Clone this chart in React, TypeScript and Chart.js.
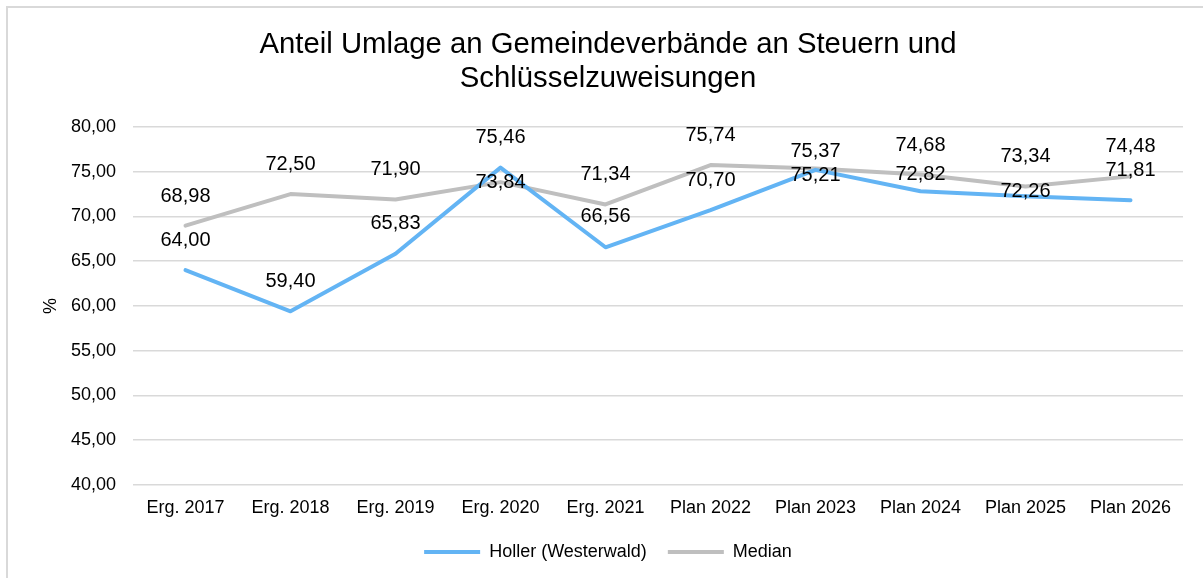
import React, { useEffect, useRef } from "react";
import { Chart, registerables } from "chart.js";

Chart.register(...registerables);

const categories = [
  "Erg. 2017", "Erg. 2018", "Erg. 2019", "Erg. 2020", "Erg. 2021",
  "Plan 2022", "Plan 2023", "Plan 2024", "Plan 2025", "Plan 2026",
];
const hollerValues = [64.0, 59.4, 65.83, 75.46, 66.56, 70.7, 75.21, 72.82, 72.26, 71.81];
const medianValues = [68.98, 72.5, 71.9, 73.84, 71.34, 75.74, 75.37, 74.68, 73.34, 74.48];
// vertical label shifts (px) relative to each point
const hollerLabelShift = [-30, -30, -30, -30, -31, -30, 6, -17, -5, -30];
const medianLabelShift = [-29, -30, -30, 0, -30, -30, -17, -29, -30, -30];
const titleLines = ["Anteil Umlage an Gemeindeverbände an Steuern und", "Schlüsselzuweisungen"];

const FONT = "'Liberation Sans', Arial, Helvetica, sans-serif";
const fmt = (v: number) => v.toFixed(2).replace(".", ",");

const frameAndLabels = {
  id: "frameAndLabels",
  beforeDraw(chart: any) {
    const { ctx, width, height } = chart;
    ctx.save();
    ctx.fillStyle = "#ffffff";
    ctx.fillRect(0, 0, width, height);
    ctx.strokeStyle = "#d9d9d9";
    ctx.lineWidth = 2;
    ctx.strokeRect(7, 7, width + 20, height + 20);
    ctx.restore();
  },
  afterDatasetsDraw(chart: any) {
    const { ctx } = chart;
    const shifts = [hollerLabelShift, medianLabelShift];
    ctx.save();
    ctx.font = `20px ${FONT}`;
    ctx.fillStyle = "#000000";
    ctx.textAlign = "center";
    ctx.textBaseline = "middle";
    chart.data.datasets.forEach((ds: any, i: number) => {
      const meta = chart.getDatasetMeta(i);
      meta.data.forEach((pt: any, j: number) => {
        ctx.fillText(fmt(ds.data[j]), pt.x, pt.y + shifts[i][j]);
      });
    });
    ctx.restore();
  },
};

export default function App() {
  const ref = useRef<HTMLCanvasElement>(null);
  useEffect(() => {
    if (!ref.current) return;
    Chart.defaults.font.family = FONT;
    const chart = new Chart(ref.current, {
      type: "line",
      data: {
        labels: categories,
        datasets: [
          {
            label: "Holler (Westerwald)",
            data: hollerValues,
            borderColor: "#63b4f4",
            backgroundColor: "#63b4f4",
            borderWidth: 4,
            borderCapStyle: "round",
            borderJoinStyle: "round",
            pointRadius: 0,
            tension: 0,
          },
          {
            label: "Median",
            data: medianValues,
            borderColor: "#bfbfbf",
            backgroundColor: "#bfbfbf",
            borderWidth: 4,
            borderCapStyle: "round",
            borderJoinStyle: "round",
            pointRadius: 0,
            tension: 0,
          },
        ],
      },
      options: {
        animation: false,
        responsive: true,
        maintainAspectRatio: false,
        layout: { padding: { left: 33, right: 20, top: 0, bottom: 7 } },
        plugins: {
          title: {
            display: true,
            text: titleLines,
            color: "#000000",
            font: { size: 29.3, weight: "normal", family: FONT, lineHeight: 1.16 },
            padding: { top: 28, bottom: 31 },
          },
          legend: {
            display: true,
            position: "bottom",
            labels: {
              usePointStyle: true,
              pointStyle: "line",
              pointStyleWidth: 56,
              color: "#000000",
              font: { size: 18, family: FONT },
              padding: 21,
            },
          },
          tooltip: { enabled: false },
        },
        scales: {
          x: {
            offset: true,
            grid: { display: false, drawTicks: false },
            border: { display: false },
            ticks: { color: "#000000", font: { size: 18 }, padding: 12, maxRotation: 0, autoSkip: false },
            afterFit(scale: any) {
              scale.height = 37;
            },
          },
          y: {
            min: 40,
            max: 80,
            grid: { color: "#d9d9d9", lineWidth: 1.5, drawTicks: false },
            border: { display: false },
            ticks: {
              stepSize: 5,
              color: "#000000",
              font: { size: 18 },
              padding: 17,
              callback: (v: any) => fmt(Number(v)),
            },
            title: {
              display: true,
              text: "%",
              color: "#000000",
              font: { size: 18 },
              padding: { top: 7, bottom: 0 },
            },
            afterFit(scale: any) {
              scale.width = 100;
            },
          },
        },
      },
      plugins: [frameAndLabels],
    });
    return () => chart.destroy();
  }, []);
  return (
    <div style={{ position: "fixed", left: 0, top: 0, width: 1203, height: 578 }}>
      <canvas ref={ref} />
    </div>
  );
}
